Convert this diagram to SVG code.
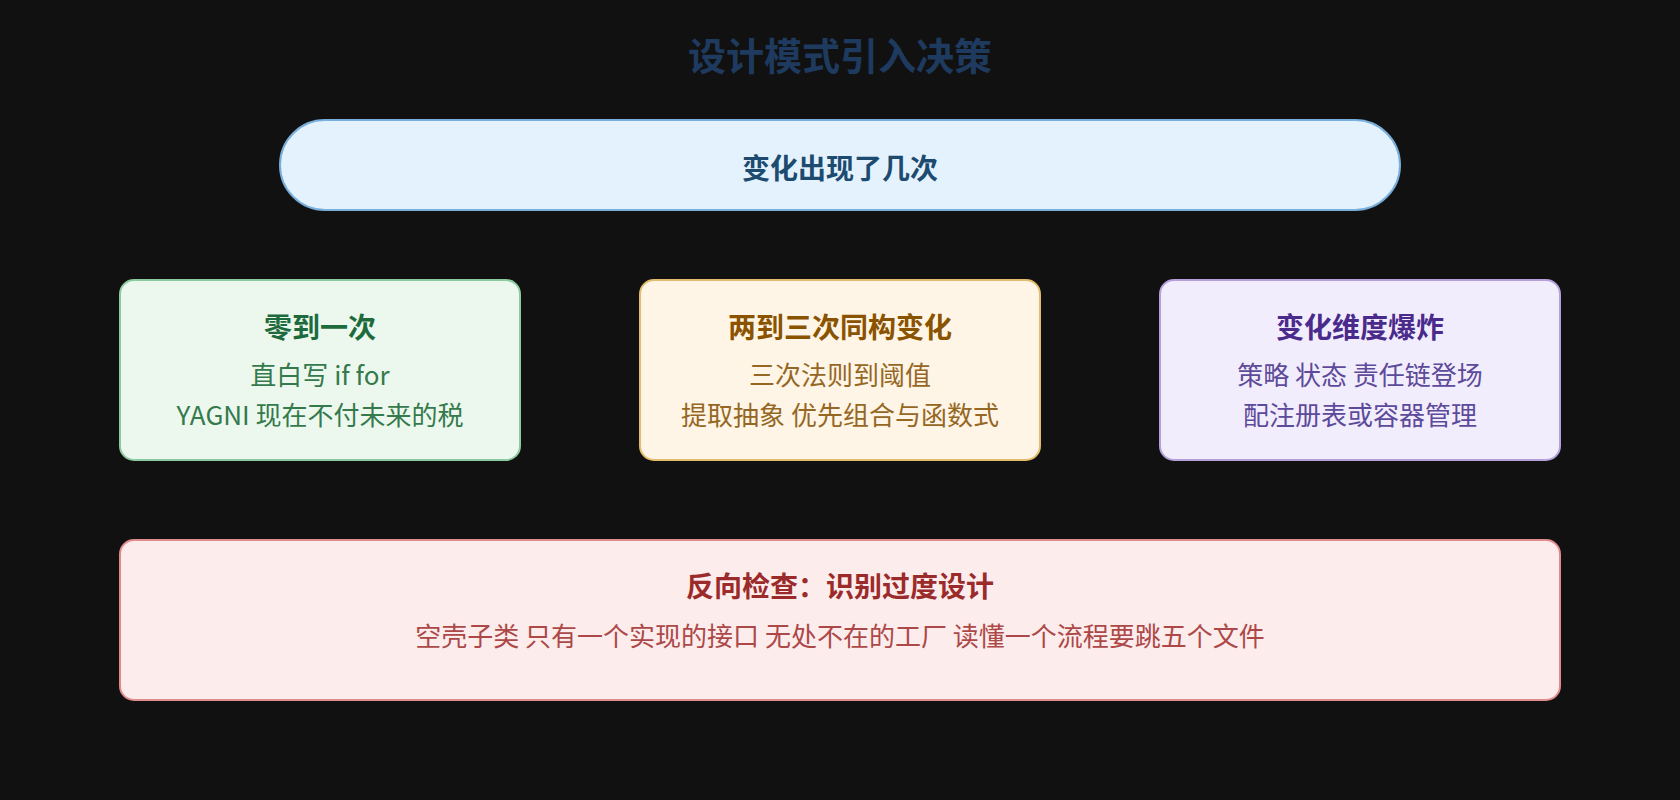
<svg xmlns="http://www.w3.org/2000/svg" width="1680" height="800" viewBox="0 0 1680 800">
<style>
text{font-family:"Noto Sans CJK SC","Noto Sans",sans-serif;text-anchor:middle}
.ttl{font-size:38px;font-weight:700;fill:#1e3a5f}
.h{font-size:28px;font-weight:700}
.b{font-size:26px}
.box{stroke-width:2}
</style>
<rect width="1680" height="800" fill="#111111"/>
<text class="ttl" x="840" y="70">设计模式引入决策</text>
<g id="connectors"></g>
<g id="root">
<rect class="box" x="280" y="120" width="1120" height="90" rx="45" fill="#e4f2fd" stroke="#78aedb"/>
<text class="h" x="840" y="179" fill="#1d4b70">变化出现了几次</text>
</g>
<g id="zero-one">
<rect class="box" x="120" y="280" width="400" height="180" rx="14" fill="#ecf8ee" stroke="#8ccaa0"/>
<text class="h" x="320" y="338" fill="#1d6b3c">零到一次</text>
<text class="b" x="320" y="385" fill="#357a4c">直白写 if for</text>
<text class="b" x="320" y="425" fill="#357a4c">YAGNI 现在不付未来的税</text>
</g>
<g id="two-three">
<rect class="box" x="640" y="280" width="400" height="180" rx="14" fill="#fff5e6" stroke="#e2bc6c"/>
<text class="h" x="840" y="338" fill="#8a5300">两到三次同构变化</text>
<text class="b" x="840" y="385" fill="#956724">三次法则到阈值</text>
<text class="b" x="840" y="425" fill="#956724">提取抽象 优先组合与函数式</text>
</g>
<g id="explode">
<rect class="box" x="1160" y="280" width="400" height="180" rx="14" fill="#f2edfc" stroke="#b4a0da"/>
<text class="h" x="1360" y="338" fill="#4a2b8c">变化维度爆炸</text>
<text class="b" x="1360" y="385" fill="#5d4a9a">策略 状态 责任链登场</text>
<text class="b" x="1360" y="425" fill="#5d4a9a">配注册表或容器管理</text>
</g>
<g id="reverse">
<rect class="box" x="120" y="540" width="1440" height="160" rx="14" fill="#fcecec" stroke="#e08c8c"/>
<text class="h" x="840" y="597" fill="#9b2a2a">反向检查：识别过度设计</text>
<text class="b" x="840" y="646" fill="#ad4848">空壳子类 只有一个实现的接口 无处不在的工厂 读懂一个流程要跳五个文件</text>
</g>
</svg>
